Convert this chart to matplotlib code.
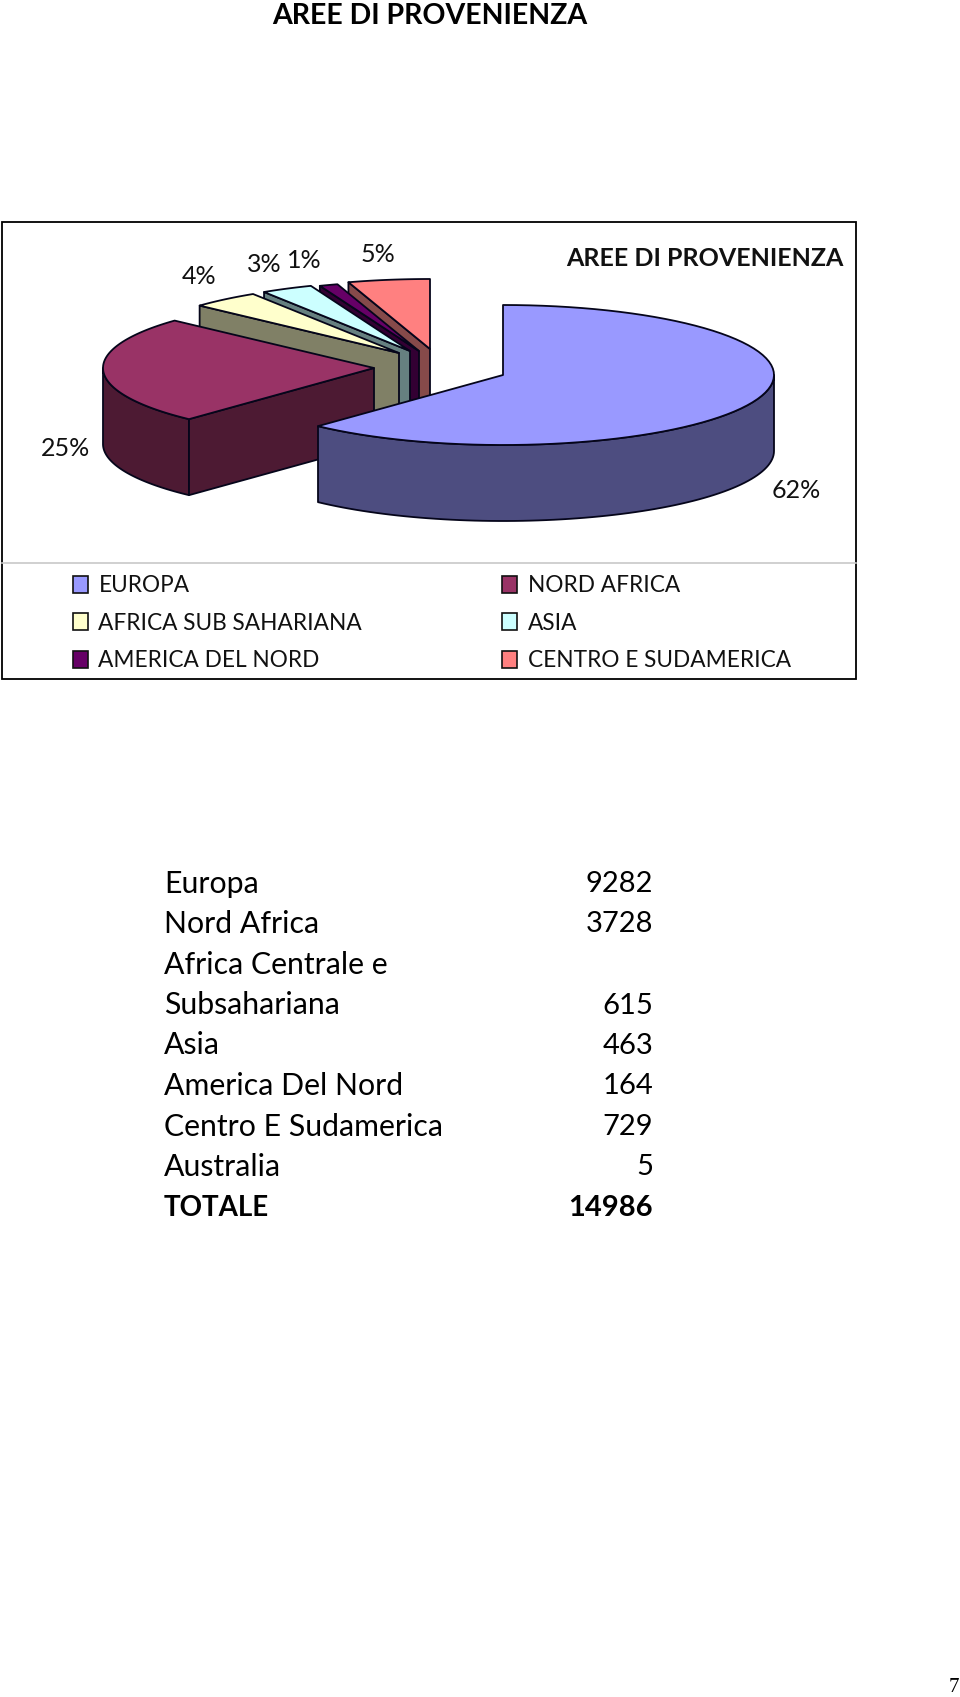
import numpy as np
import matplotlib
matplotlib.use("Agg")
import matplotlib.pyplot as plt
from matplotlib.patches import Polygon, Rectangle

plt.rcParams['font.family'] = ['Lato', 'DejaVu Sans']

# ---- data ----
legend_labels = ['EUROPA', 'NORD AFRICA', 'AFRICA SUB SAHARIANA', 'ASIA',
                 'AMERICA DEL NORD', 'CENTRO E SUDAMERICA']
pie_values = [9282, 3728, 615, 463, 164, 729]
table_names = ['Europa', 'Nord Africa', 'Africa Centrale e', 'Subsahariana', 'Asia',
               'America Del Nord', 'Centro E Sudamerica', 'Australia', 'TOTALE']
table_values = ['9282', '3728', '', '615', '463', '164', '729', '5', '14986']
title = 'AREE DI PROVENIENZA'

# ---- style ----
top_colors = ['#9999FF', '#993366', '#FFFFCC', '#CCFFFF', '#660066', '#FF8080']
side_colors = ['#4D4D80', '#4D1A33', '#808066', '#668080', '#330033', '#864A4A']
apexes = [(503, 375), (374, 368), (399, 353), (410, 351), (419, 351), (430, 349)]
label_pos = [(796, 491), (66, 449), (199, 276), (264, 265), (304, 260), (378, 254)]
RX, RY, DEPTH = 271, 70, 76
LW = 1.3

fig = plt.figure(figsize=(9.6, 16.97), dpi=100)
ax = fig.add_axes([0, 0, 1, 1])
ax.set_xlim(0, 960)
ax.set_ylim(1697, 0)
ax.axis('off')

# chart frame
ax.add_patch(Rectangle((2, 222), 853.5, 456.5, fc='white', ec='black', lw=1.3, zorder=0))
ax.plot([2, 855.5], [563, 563], color='#C8C8C8', lw=1.2, zorder=1)


def pts(apex, a0, a1, dy=0):
    t = np.radians(np.linspace(a0, a1, 80))
    return np.column_stack([apex[0] + RX * np.sin(t), apex[1] - RY * np.cos(t) + dy])


def poly(p, color, z):
    ax.add_patch(Polygon(p, closed=True, fc=color, ec='#05051A', lw=LW, joinstyle='round', zorder=z))


total = sum(pie_values)
edges = np.concatenate([[0], np.cumsum(pie_values) / total * 360])

# back to front: last slice first, Europa last
for i in range(len(pie_values) - 1, -1, -1):
    a0, a1 = edges[i], edges[i + 1]
    apex = apexes[i]
    z = 10 + (len(pie_values) - i)
    if i == 0:
        rim = pts(apex, 90, a1)
        poly(np.vstack([rim, pts(apex, 90, a1, DEPTH)[::-1]]), side_colors[i], z)
    else:
        start = np.array([apex[0] + RX * np.sin(np.radians(a0)), apex[1] - RY * np.cos(np.radians(a0))])
        if a0 < 270 < a1:
            rim = pts(apex, a0, 270)
            poly(np.vstack([rim, pts(apex, a0, 270, DEPTH)[::-1]]), side_colors[i], z)
        poly([apex, start, start + [0, DEPTH], (apex[0], apex[1] + DEPTH)], side_colors[i], z)
    poly(np.vstack([[apex], pts(apex, a0, a1)]), top_colors[i], z + 0.5)

for (x, y), v in zip(label_pos, pie_values):
    ax.text(x, y, f'{v / total * 100:.0f}%', ha='center', va='center', fontsize=18, color='#111111', zorder=30)

ax.text(704.5, 258.5, title, ha='center', va='center', fontsize=18, fontweight='bold', color='#111111')
ax.text(430, 16, title, ha='center', va='center', fontsize=20.5, fontweight='bold', color='black')

# legend
leg_x = [73, 502]
leg_y = [584.5, 621.5, 659]
for k, lab in enumerate(legend_labels):
    x, y = leg_x[k % 2], leg_y[k // 2]
    ax.add_patch(Rectangle((x, y - 8.5), 15, 17, fc=top_colors[k], ec='#111111', lw=1.2, zorder=5))
    ax.text(x + 25.5, y + 1.5, lab, ha='left', va='center', fontsize=16.3, color='#111111')

# table
row_y = [884, 924, 964.5, 1005.5, 1045.5, 1086, 1127, 1167, 1208]
for name, val, y in zip(table_names, table_values, row_y):
    bold = name == 'TOTALE'
    w = 'bold' if bold else 'normal'
    ax.text(164, y, name, ha='left', va='center', fontsize=20 if bold else 21.8, fontweight=w, color='black')
    if val:
        ax.text(653, y, val, ha='right', va='center', fontsize=21, fontweight=w, color='black')

ax.text(954, 1688, '7', ha='center', va='center', fontsize=15, family='Liberation Serif', color='black')

fig.savefig('out.png', dpi=100, facecolor='white')
